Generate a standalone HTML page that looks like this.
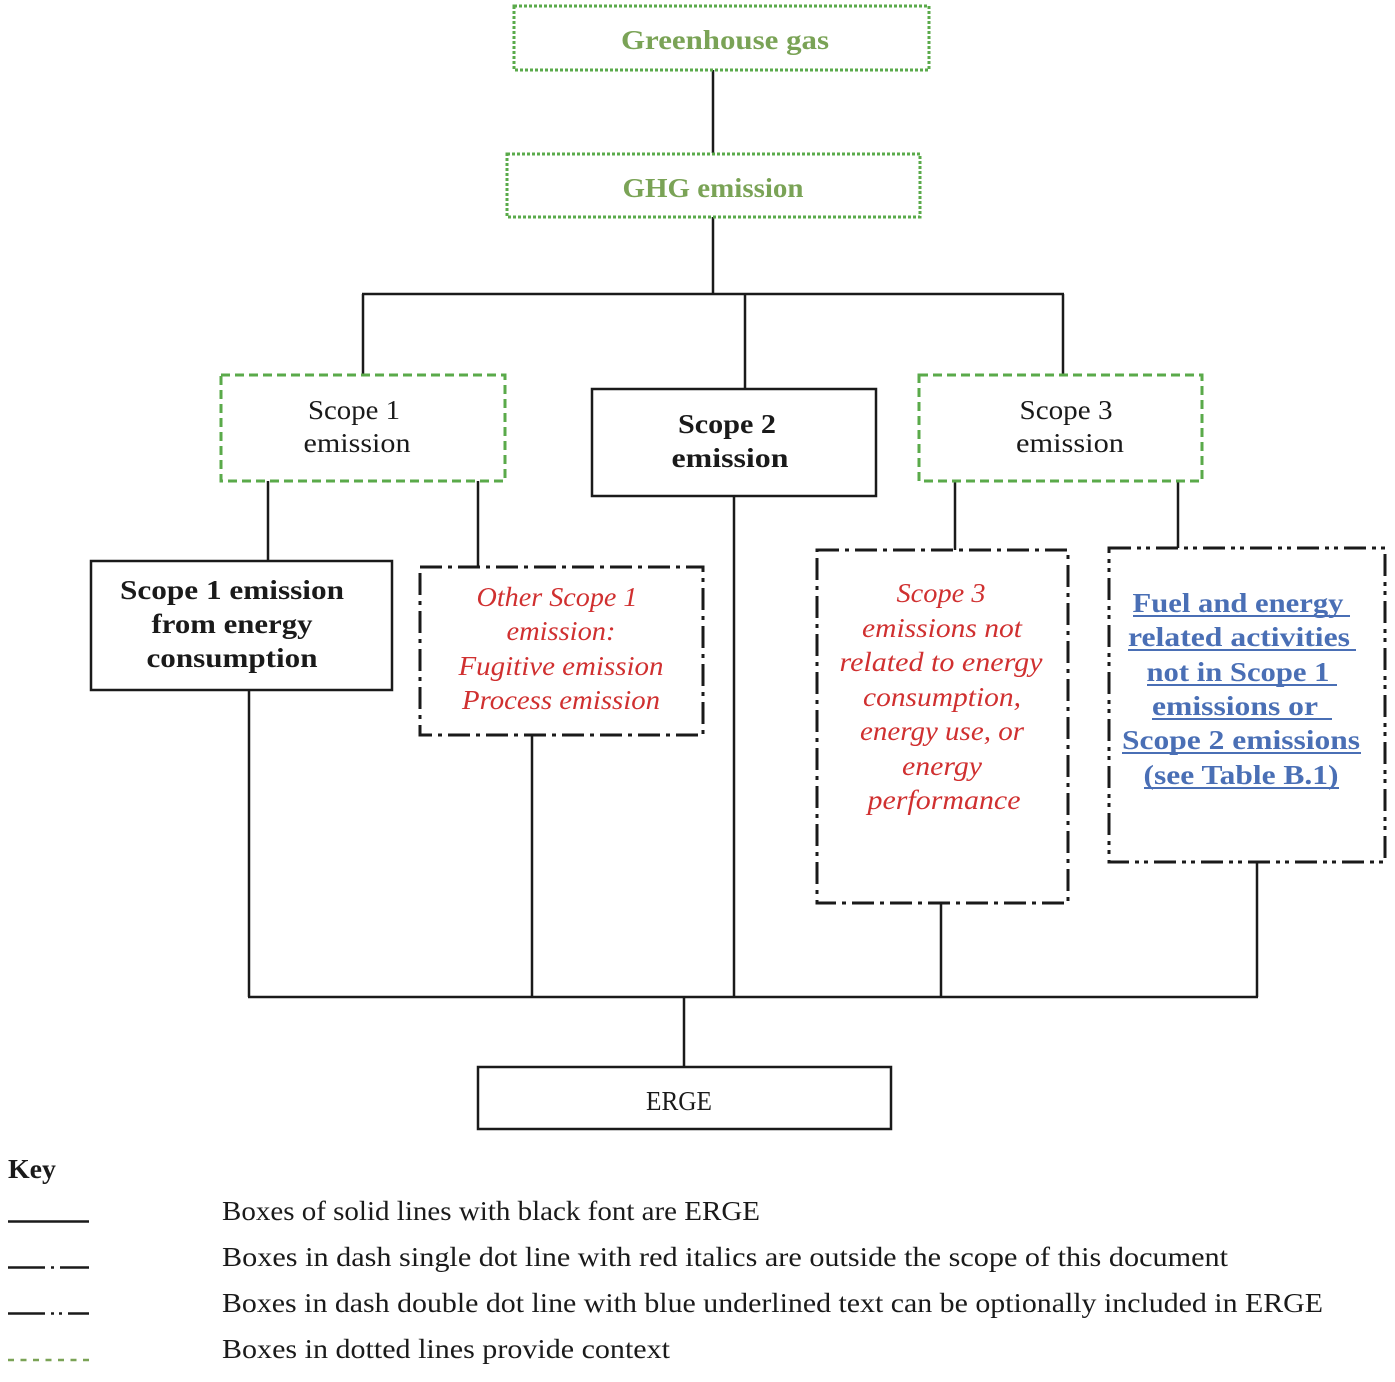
<!DOCTYPE html>
<html><head><meta charset="utf-8"><style>
html,body{margin:0;padding:0;background:#fff}
svg{display:block}
text{font-family:"Liberation Serif",serif;font-size:27px}
.g{fill:#7aa356;font-weight:bold}
.k{fill:#1a1a1a}
.b{font-weight:bold;fill:#1a1a1a}
.r{fill:#d03030;font-style:italic}
.u{fill:#4a6fb5;font-weight:bold}
</style></head><body>
<svg width="1395" height="1382" viewBox="0 0 1395 1382" xmlns="http://www.w3.org/2000/svg">
<g fill="none" stroke-linecap="butt">
<g stroke="#1a1a1a" stroke-width="2.5">
<line x1="713" y1="70" x2="713" y2="153"/>
<line x1="713" y1="217" x2="713" y2="294"/>
<line x1="362" y1="294" x2="1064" y2="294"/>
<line x1="363" y1="294" x2="363" y2="375"/>
<line x1="745" y1="294" x2="745" y2="389"/>
<line x1="1063" y1="294" x2="1063" y2="375"/>
<line x1="268" y1="481" x2="268" y2="561"/>
<line x1="478" y1="481" x2="478" y2="567"/>
<line x1="734" y1="496" x2="734" y2="997"/>
<line x1="955" y1="481" x2="955" y2="550"/>
<line x1="1178" y1="481" x2="1178" y2="548"/>
<line x1="249" y1="690" x2="249" y2="997"/>
<line x1="532" y1="735" x2="532" y2="997"/>
<line x1="941" y1="903" x2="941" y2="997"/>
<line x1="1257" y1="862" x2="1257" y2="997"/>
<line x1="248" y1="997" x2="1258" y2="997"/>
<line x1="684" y1="997" x2="684" y2="1067"/>
</g>
<g stroke="#5aaa4a" stroke-width="3" stroke-dasharray="3 2">
<rect x="514" y="6" width="415" height="64"/>
<rect x="507" y="154" width="413" height="63"/>
</g>
<g stroke="#5aaa4a" stroke-width="3" stroke-dasharray="9 5">
<rect x="221" y="375" width="284" height="106"/>
<rect x="919" y="375" width="283" height="106"/>
</g>
<g stroke="#1a1a1a" stroke-width="2.5">
<rect x="592" y="389" width="284" height="107"/>
<rect x="91" y="561" width="301" height="129"/>
<rect x="478" y="1067" width="413" height="62"/>
</g>
<g stroke="#1a1a1a" stroke-width="3" stroke-dasharray="22 6 4 6">
<rect x="420" y="567" width="283" height="168"/>
<rect x="817" y="550" width="251" height="353"/>
</g>
<g stroke="#1a1a1a" stroke-width="3" stroke-dasharray="22 6 4 5 4 6">
<rect x="1109" y="548" width="276" height="314"/>
</g>
</g>
<g text-anchor="middle">
<text class="g" x="725" y="49" textLength="208" lengthAdjust="spacingAndGlyphs">Greenhouse gas</text>
<text class="g" x="713" y="197" textLength="181" lengthAdjust="spacingAndGlyphs">GHG emission</text>
<text class="k" x="354" y="419" textLength="92" lengthAdjust="spacingAndGlyphs">Scope 1</text>
<text class="k" x="357" y="452" textLength="107" lengthAdjust="spacingAndGlyphs">emission</text>
<text class="b" x="727" y="433" textLength="98" lengthAdjust="spacingAndGlyphs">Scope 2</text>
<text class="b" x="730" y="467" textLength="117" lengthAdjust="spacingAndGlyphs">emission</text>
<text class="k" x="1066" y="419" textLength="93" lengthAdjust="spacingAndGlyphs">Scope 3</text>
<text class="k" x="1070" y="452" textLength="108" lengthAdjust="spacingAndGlyphs">emission</text>
<text class="b" x="232" y="599" textLength="224" lengthAdjust="spacingAndGlyphs">Scope 1 emission</text>
<text class="b" x="232" y="633" textLength="161" lengthAdjust="spacingAndGlyphs">from energy</text>
<text class="b" x="232" y="667" textLength="171" lengthAdjust="spacingAndGlyphs">consumption</text>
<text class="r" x="557" y="606" textLength="161" lengthAdjust="spacingAndGlyphs">Other Scope 1</text>
<text class="r" x="561" y="640" textLength="109" lengthAdjust="spacingAndGlyphs">emission:</text>
<text class="r" x="561" y="675" textLength="205" lengthAdjust="spacingAndGlyphs">Fugitive emission</text>
<text class="r" x="561" y="709" textLength="198" lengthAdjust="spacingAndGlyphs">Process emission</text>
<text class="r" x="941" y="602" textLength="89" lengthAdjust="spacingAndGlyphs">Scope 3</text>
<text class="r" x="942" y="637" textLength="160" lengthAdjust="spacingAndGlyphs">emissions not</text>
<text class="r" x="941" y="671" textLength="203" lengthAdjust="spacingAndGlyphs">related to energy</text>
<text class="r" x="942" y="706" textLength="158" lengthAdjust="spacingAndGlyphs">consumption,</text>
<text class="r" x="942" y="740" textLength="164" lengthAdjust="spacingAndGlyphs">energy use, or</text>
<text class="r" x="942" y="775" textLength="80" lengthAdjust="spacingAndGlyphs">energy</text>
<text class="r" x="944" y="809" textLength="153" lengthAdjust="spacingAndGlyphs">performance</text>
<text class="u" x="1238" y="612" textLength="211" lengthAdjust="spacingAndGlyphs">Fuel and energy</text>
<text class="u" x="1239" y="646" textLength="222" lengthAdjust="spacingAndGlyphs">related activities</text>
<text class="u" x="1238" y="681" textLength="183" lengthAdjust="spacingAndGlyphs">not in Scope 1</text>
<text class="u" x="1235" y="715" textLength="166" lengthAdjust="spacingAndGlyphs">emissions or</text>
<text class="u" x="1241" y="749" textLength="238" lengthAdjust="spacingAndGlyphs">Scope 2 emissions</text>
<text class="u" x="1241" y="784" textLength="195" lengthAdjust="spacingAndGlyphs">(see Table B.1)</text>
<text class="k" x="679" y="1110" textLength="66" lengthAdjust="spacingAndGlyphs">ERGE</text>
</g>
<g stroke="#4a6fb5" stroke-width="2">
<line x1="1133" y1="616" x2="1350" y2="616"/>
<line x1="1128" y1="650" x2="1356" y2="650"/>
<line x1="1147" y1="685" x2="1337" y2="685"/>
<line x1="1152" y1="719" x2="1332" y2="719"/>
<line x1="1122" y1="753" x2="1361" y2="753"/>
<line x1="1144" y1="788" x2="1339" y2="788"/>
</g>
<text class="b" x="8" y="1178" textLength="48" lengthAdjust="spacingAndGlyphs">Key</text>
<g fill="none" stroke-width="2.5">
<line x1="8" y1="1221.5" x2="89" y2="1221.5" stroke="#1a1a1a"/>
<line x1="8" y1="1267.5" x2="89" y2="1267.5" stroke="#1a1a1a" stroke-dasharray="37 6 3 6 40"/>
<line x1="8" y1="1313.5" x2="89" y2="1313.5" stroke="#1a1a1a" stroke-dasharray="37 6 3 5 3 6 40"/>
<line x1="8" y1="1360" x2="89" y2="1360" stroke="#7aa356" stroke-dasharray="6 6.5"/>
</g>
<text class="k" x="222" y="1220" textLength="538" lengthAdjust="spacingAndGlyphs">Boxes of solid lines with black font are ERGE</text>
<text class="k" x="222" y="1266" textLength="1006" lengthAdjust="spacingAndGlyphs">Boxes in dash single dot line with red italics are outside the scope of this document</text>
<text class="k" x="222" y="1312" textLength="1101" lengthAdjust="spacingAndGlyphs">Boxes in dash double dot line with blue underlined text can be optionally included in ERGE</text>
<text class="k" x="222" y="1358" textLength="448" lengthAdjust="spacingAndGlyphs">Boxes in dotted lines provide context</text>
</svg>
</body></html>
